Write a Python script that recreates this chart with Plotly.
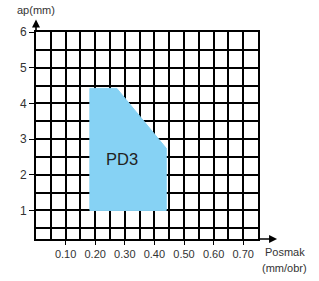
import plotly.graph_objects as go

# Data
region_name = "PD3"
region_x = [0.182, 0.182, 0.273, 0.440, 0.440, 0.182]
region_y = [1.00, 4.42, 4.42, 2.74, 1.00, 1.00]
x_ticks = [0.10, 0.20, 0.30, 0.40, 0.50, 0.60, 0.70]
x_tick_labels = ["0.10", "0.20", "0.30", "0.40", "0.50", "0.60", "0.70"]
y_ticks = [1, 2, 3, 4, 5, 6]
y_tick_labels = ["1", "2", "3", "4", "5", "6"]

FONT = "Liberation Sans, Arial, sans-serif"
TXT = "#333333"

fig = go.Figure()
fig.add_trace(go.Scatter(
    x=region_x, y=region_y, mode="lines", fill="toself",
    fillcolor="#86D2F4", line=dict(color="#86D2F4", width=1),
    hoverinfo="skip", showlegend=False))

fig.add_annotation(x=0.29, y=2.44, text=region_name, showarrow=False,
                   xanchor="center", yanchor="middle",
                   font=dict(family=FONT, size=16.5, color="#222222"))

grid = dict(showgrid=True, gridcolor="black", gridwidth=1.6)
fig.update_xaxes(range=[0, 0.75], tickmode="array", tickvals=x_ticks,
                 ticktext=x_tick_labels, ticks="outside", ticklen=4,
                 tickcolor="black", showline=True, mirror=True,
                 linecolor="black", linewidth=2, zeroline=False,
                 tickfont=dict(family=FONT, size=11, color=TXT),
                 minor=dict(tick0=0, dtick=0.05, showgrid=True,
                            gridcolor="black", gridwidth=1.6, ticks=""),
                 **grid)
fig.update_yaxes(range=[0.2, 6], tickmode="array", tickvals=y_ticks,
                 ticktext=y_tick_labels, ticks="outside", ticklen=5,
                 tickcolor="black", showline=True, mirror=True,
                 linecolor="black", linewidth=2, zeroline=False,
                 tickfont=dict(family=FONT, size=12, color=TXT),
                 minor=dict(tick0=0, dtick=0.5, showgrid=True,
                            gridcolor="black", gridwidth=1.6, ticks=""),
                 **grid)

# axis arrows
fig.add_annotation(xref="paper", yref="paper", x=0, y=1.06, ax=0, ay=13,
                   showarrow=True, arrowhead=2, arrowsize=1, arrowwidth=1.6,
                   arrowcolor="black", text="")
fig.add_annotation(xref="paper", yref="paper", x=1.086, y=0, ax=-20, ay=0,
                   showarrow=True, arrowhead=2, arrowsize=1, arrowwidth=1.6,
                   arrowcolor="black", text="")

# axis titles
for txt, px, py in [("ap(mm)", 0.0, 1.106), ("Posmak", 1.12, -0.063),
                    ("(mm/obr)", 1.12, -0.14)]:
    fig.add_annotation(xref="paper", yref="paper", x=px, y=py, text=txt,
                       showarrow=False, xanchor="center", yanchor="middle",
                       font=dict(family=FONT, size=11, color=TXT))

fig.update_layout(width=319, height=281,
                  margin=dict(l=36, r=61, t=32, b=42),
                  plot_bgcolor="white", paper_bgcolor="white",
                  showlegend=False)

fig.write_html("out.html", config={"displayModeBar": False},
               post_script="document.body.style.margin='0px';"
                           "document.body.style.padding='0px';")
